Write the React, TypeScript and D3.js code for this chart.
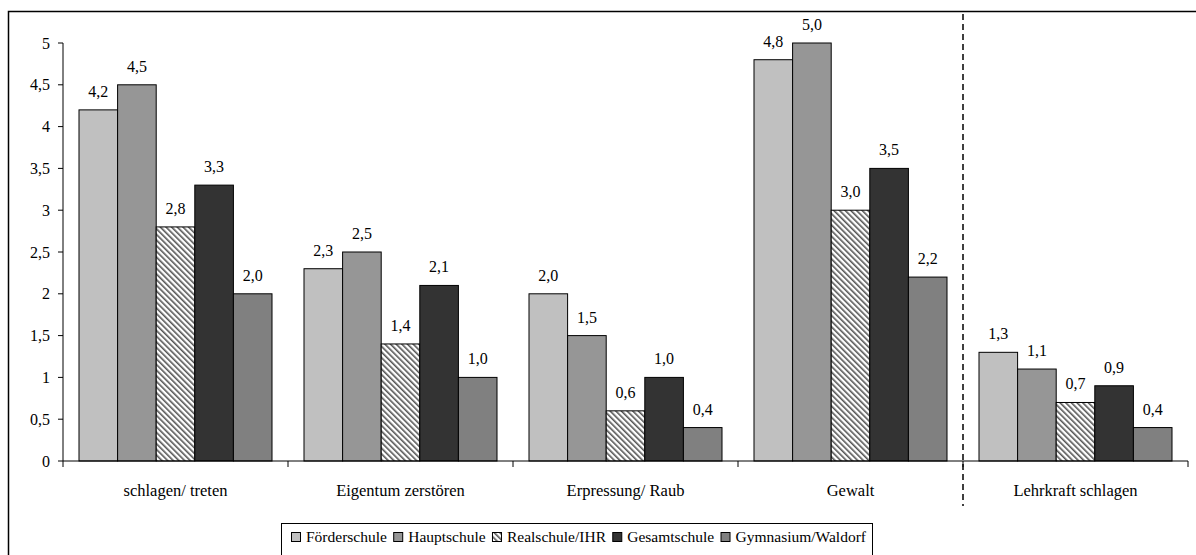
import React, { useEffect, useRef } from "react";
import * as d3 from "d3";

const categories = ["schlagen/ treten", "Eigentum zerstören", "Erpressung/ Raub", "Gewalt", "Lehrkraft schlagen"];
const seriesNames = ["Förderschule", "Hauptschule", "Realschule/IHR", "Gesamtschule", "Gymnasium/Waldorf"];
const foerderschule = [4.2, 2.3, 2.0, 4.8, 1.3];
const hauptschule = [4.5, 2.5, 1.5, 5.0, 1.1];
const realschule = [2.8, 1.4, 0.6, 3.0, 0.7];
const gesamtschule = [3.3, 2.1, 1.0, 3.5, 0.9];
const gymnasium = [2.0, 1.0, 0.4, 2.2, 0.4];
const yTicks = [0, 0.5, 1, 1.5, 2, 2.5, 3, 3.5, 4, 4.5, 5];

const seriesValues = [foerderschule, hauptschule, realschule, gesamtschule, gymnasium];
const fills = ["#c0c0c0", "#969696", "url(#hatch)", "#333333", "#808080"];
const FONT = "'Times New Roman', Times, 'Liberation Serif', 'DejaVu Serif', serif";

export default function App() {
  const ref = useRef<SVGSVGElement>(null);

  useEffect(() => {
    const svg = d3.select(ref.current);
    svg.selectAll("*").remove();

    const defs = svg.append("defs");
    const pat = defs
      .append("pattern")
      .attr("id", "hatch")
      .attr("patternUnits", "userSpaceOnUse")
      .attr("width", 4)
      .attr("height", 4)
      .attr("patternTransform", "rotate(-45)");
    pat.append("rect").attr("width", 4).attr("height", 4).attr("fill", "#ffffff");
    pat.append("rect").attr("x", 0).attr("y", 0).attr("width", 1.6).attr("height", 4).attr("fill", "#555555");

    svg
      .append("path")
      .attr("d", "M8.5,560 L8.5,11.5 L1200,11.5")
      .attr("fill", "none")
      .attr("stroke", "#000")
      .attr("stroke-width", 1.5);

    const x0 = d3.scaleBand<string>().domain(categories).range([63, 1188]).padding(0);
    const x1 = d3
      .scaleBand<string>()
      .domain(seriesNames)
      .range([16, x0.bandwidth() - 16])
      .padding(0);
    const y = d3.scaleLinear().domain([0, 5]).range([461, 43]);

    const g = svg.append("g").attr("font-family", FONT).attr("fill", "#000");
    g.append("line").attr("x1", 63).attr("x2", 63).attr("y1", y(5)).attr("y2", y(0)).attr("stroke", "#000");
    yTicks.forEach((t) => {
      g.append("line").attr("x1", 58).attr("x2", 63).attr("y1", y(t)).attr("y2", y(t)).attr("stroke", "#000");
      g.append("text")
        .attr("x", 50)
        .attr("y", y(t) + 5.5)
        .attr("text-anchor", "end")
        .attr("font-size", 16)
        .text(String(t).replace(".", ","));
    });

    categories.forEach((c, ci) => {
      const gx = x0(c)!;
      seriesNames.forEach((s, si) => {
        const v = seriesValues[si][ci];
        const bx = gx + x1(s)!;
        g.append("rect")
          .attr("x", bx)
          .attr("y", y(v))
          .attr("width", x1.bandwidth())
          .attr("height", y(0) - y(v))
          .attr("fill", fills[si])
          .attr("stroke", "#000")
          .attr("stroke-width", 1);
        g.append("text")
          .attr("x", bx + x1.bandwidth() / 2)
          .attr("y", y(v) - 13)
          .attr("text-anchor", "middle")
          .attr("font-size", 16)
          .text(v.toFixed(1).replace(".", ","));
      });
      g.append("text")
        .attr("x", gx + x0.bandwidth() / 2)
        .attr("y", 496)
        .attr("text-anchor", "middle")
        .attr("font-size", 16.5)
        .text(c);
    });

    g.append("line").attr("x1", 63).attr("x2", 1188).attr("y1", y(0)).attr("y2", y(0)).attr("stroke", "#000");
    [...categories.map((c) => x0(c)!), 1188].forEach((tx) => {
      g.append("line").attr("x1", tx).attr("x2", tx).attr("y1", y(0)).attr("y2", y(0) + 6).attr("stroke", "#000");
    });

    const sepX = x0(categories[4])!;
    g.append("line")
      .attr("x1", sepX)
      .attr("x2", sepX)
      .attr("y1", 14)
      .attr("y2", 506)
      .attr("stroke", "#000")
      .attr("stroke-width", 1.5)
      .attr("stroke-dasharray", "6,4");

    const lg = g.append("g");
    lg.append("rect")
      .attr("x", 281.5)
      .attr("y", 523.5)
      .attr("width", 591)
      .attr("height", 40)
      .attr("fill", "#fff")
      .attr("stroke", "#000")
      .attr("stroke-width", 1);
    const legendStart = 291;
    const legendEnd = 866;
    const texts = seriesNames.map((s) =>
      lg.append("text").attr("y", 542).attr("font-size", 15.5).text(s)
    );
    const widths = texts.map((t) => (t.node() as SVGTextElement).getComputedTextLength());
    const itemW = widths.map((w) => 15 + w);
    const gap = (legendEnd - legendStart - d3.sum(itemW)) / (seriesNames.length - 1);
    let cx = legendStart;
    seriesNames.forEach((s, si) => {
      lg.append("rect")
        .attr("x", cx + 0.5)
        .attr("y", 532.5)
        .attr("width", 9)
        .attr("height", 9)
        .attr("fill", fills[si])
        .attr("stroke", "#000");
      texts[si].attr("x", cx + 15);
      cx = cx + itemW[si] + gap;
    });
  }, []);

  return (
    <svg
      ref={ref}
      width={1196}
      height={555}
      style={{ position: "absolute", left: 0, top: 0, background: "#fff" }}
    />
  );
}
